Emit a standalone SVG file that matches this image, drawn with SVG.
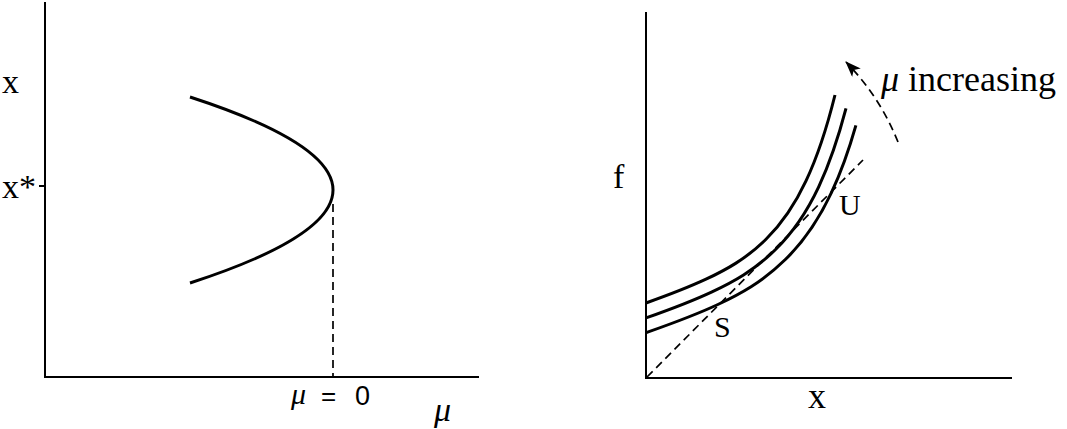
<svg xmlns="http://www.w3.org/2000/svg" width="1067" height="429" viewBox="0 0 1067 429">
<defs>
<marker id="arr" viewBox="0 0 16 12" refX="15" refY="6" markerWidth="16" markerHeight="12" markerUnits="userSpaceOnUse" orient="auto">
<path d="M0,0 L16,6 L0,12 L4,6 Z" fill="#000"/>
</marker>
</defs>
<style>
.ax{stroke:#000;stroke-width:2;fill:none}
.cv{stroke:#000;stroke-width:3;fill:none}
.dash{stroke:#000;stroke-width:1.7;fill:none;stroke-dasharray:8,5}
.t{font-family:"Liberation Serif","Times New Roman",serif;fill:#000}
.s{font-family:"Liberation Sans",Arial,sans-serif;fill:#000}
</style>
<rect width="1067" height="429" fill="#fff"/>
<g id="left-plot">
<g id="left-axes">
<path class="ax" d="M45,2 V377 H479"/>
<path class="ax" d="M39,186 H45"/>
</g>
<g id="parabola">
<path class="cv" d="M190,97 Q476,190 190,283"/>
</g>
<g id="left-labels">
<text class="t" x="2" y="93" font-size="34">x</text>
<text class="t" x="2" y="198" font-size="34">x*</text>
<text class="t" x="291" y="404" font-size="30" font-style="italic">μ</text>
<text class="s" x="321" y="405" font-size="26">=</text>
<text class="s" x="355" y="405" font-size="27">0</text>
<text class="t" x="434" y="421" font-size="34" font-style="italic">μ</text>
</g>
</g>
<g id="right-plot">
<g id="right-axes">
<path class="ax" d="M646,12 V378 H1012"/>
</g>
<g id="curves">
<path class="cv" d="M646,303 C666,295.9 686,288.5 706,279.2 C726,269.8 746,259 766,239.3 C779.3,226.2 792.7,209.3 806,180.9 C815.7,160.4 825.3,134 835,95"/>
<path class="cv" d="M646,317.9 C667.8,310.2 689.5,302.4 712,291.8 C732.7,282.1 754.1,270.6 775.8,249.3 C790.3,235.1 804.7,216.6 818.7,186.9 C827.9,167.2 837,142.7 846,108.4"/>
<path class="cv" d="M646,332.7 C669.5,324.4 693,316.2 717.9,304.5 C739.4,294.4 762.3,282.3 785.6,259.3 C801.2,244 816.7,224 831.3,192.9 C839.7,175 847.9,153.5 855.9,125.3"/>
</g>
<g id="right-labels">
<text class="t" x="613" y="188" font-size="34">f</text>
<text class="t" x="808" y="408" font-size="36">x</text>
<text class="t" x="714" y="337" font-size="30">S</text>
<text class="t" x="839" y="215" font-size="30">U</text>
<text class="t" x="881" y="91" font-size="36"><tspan font-style="italic">μ</tspan> increasing</text>
</g>
</g>
<g id="connectors">
<path class="dash" d="M333,204 V377"/>
<path class="dash" d="M647,377 L863,160"/>
<path class="dash" d="M898,142 Q880,97 846,62" marker-end="url(#arr)"/>
</g>
</svg>
